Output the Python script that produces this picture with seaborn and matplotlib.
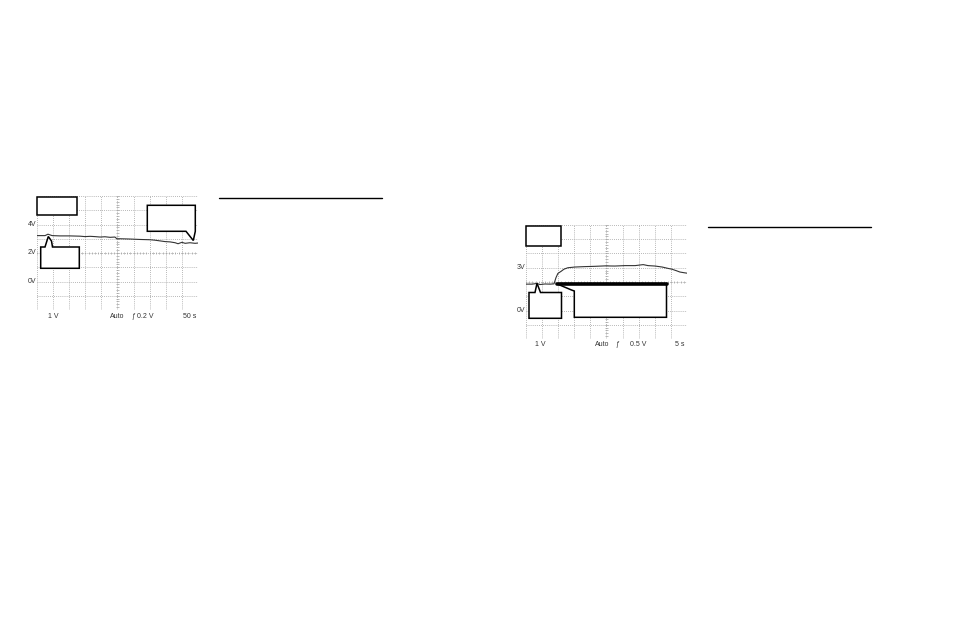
import matplotlib
matplotlib.use("Agg")
import matplotlib.pyplot as plt
import seaborn as sns
import pandas as pd
from matplotlib.patches import Polygon

# Two scope captures: time (s) and voltage (V)
left_time = [0, 25, 34, 47, 71, 102, 134, 149, 165, 180, 196, 211, 227, 242, 248,
             258, 289, 320, 351, 366, 382, 398, 413, 429, 438, 450, 460, 475, 491, 500]
left_volts = [3.22, 3.22, 3.32, 3.22, 3.2, 3.2, 3.18, 3.15, 3.17, 3.15, 3.12, 3.14, 3.1, 3.12, 3.0,
              3.0, 2.98, 2.95, 2.93, 2.9, 2.85, 2.8, 2.78, 2.72, 2.65, 2.75, 2.68, 2.72, 2.68, 2.7]

right_time = [0, 1.9, 3.4, 4.3, 5.9, 7.5, 8.7, 9.3, 9.9, 10.9, 11.8, 13.0, 15.2, 18.3, 21.4,
              24.5, 27.6, 30.7, 33.9, 36.4, 37.9, 40.1, 42.3, 44.2, 45.3, 46.6, 47.8, 49.1, 50]
right_volts = [1.85, 1.85, 1.9, 1.82, 1.86, 1.85, 1.87, 2.3, 2.6, 2.75, 2.9, 3.0, 3.05, 3.08, 3.1,
               3.13, 3.12, 3.15, 3.15, 3.22, 3.15, 3.12, 3.05, 2.95, 2.9, 2.8, 2.7, 2.65, 2.62]

left_ylabels = ["4V", "2V", "0V"]
left_yvals = [4, 2, 0]
right_ylabels = ["3V", "0V"]
right_yvals = [3, 0]
left_footer = ["1 V", "Auto", "ƒ", "0.2 V", "50 s"]
right_footer = ["1 V", "Auto", "ƒ", "0.5 V", "5 s"]

W, H = 954, 626

sns.set_style("white")
plt.rcParams['font.family'] = ['Liberation Sans', 'DejaVu Sans']

fig = plt.figure(figsize=(W / 100, H / 100), dpi=100)


def px(x, y):
    return (x / W, 1 - y / H)


def scope(left, top, tmax, times, volts, ylabels, yvals, footer, footer_x):
    ax = fig.add_axes([left / W, 1 - (top + 114) / H, 161 / W, 114 / H])
    ax.set_xlim(0, tmax)
    ax.set_ylim(-2, 6)
    ax.axis("off")
    dx = tmax / 10
    # dotted graticule
    for i in range(11):
        ax.axvline(i * dx, color="#a0a0a0", lw=0.6, ls=(0, (1, 1.5)))
    for j in range(9):
        ax.axhline(-2 + j, color="#a0a0a0", lw=0.6, ls=(0, (1, 1.5)))
    # minor ticks on the centre cross
    ys = [-2 + k * 0.2 for k in range(41)]
    ax.hlines(ys, 5 * dx - 0.1 * dx, 5 * dx + 0.1 * dx, color="#a0a0a0", lw=0.5)
    xs = [k * dx * 0.2 for k in range(51)]
    ax.vlines(xs, 1.9, 2.1, color="#a0a0a0", lw=0.5)

    df = pd.DataFrame({"t": times, "v": volts})
    sns.lineplot(data=df, x="t", y="v", ax=ax, color="#333333", lw=0.8)
    ax.set_xlabel("")
    ax.set_ylabel("")

    for lab, v in zip(ylabels, yvals):
        fig.text(*px(left - 1, top + 114 - (v + 2) * 14.25), lab, ha="right",
                 va="center", fontsize=5, color="#333333")
    for lab, x in zip(footer, footer_x):
        fig.text(*px(x, top + 120), lab, ha="center", va="center",
                 fontsize=5, color="#333333")
    return ax


scope(37, 196, 500, left_time, left_volts, left_ylabels, left_yvals,
      left_footer, [53, 117, 133, 145, 190])
scope(526, 225, 50, right_time, right_volts, right_ylabels, right_yvals,
      right_footer, [540, 602, 617, 638, 680])


def callout(points, lw=1.1):
    poly = Polygon([px(x, y) for x, y in points], closed=True, transform=fig.transFigure,
                   facecolor="white", edgecolor="black", lw=lw, zorder=10)
    fig.add_artist(poly)


# left scope callouts
callout([(37.3, 197), (77.5, 197), (77.5, 215.5), (37.3, 215.5)])
callout([(147.3, 205.3), (195.3, 205.3), (195.3, 231.3), (193.3, 240.5),
         (186, 231.3), (147.3, 231.3)])
callout([(40.7, 268.3), (40.7, 247), (45, 247), (48.3, 236.5), (51.5, 241),
         (52.5, 247), (79.3, 247), (79.3, 268.3)])

# right scope callouts
callout([(526, 226.3), (560.7, 226.3), (560.7, 245.7), (526, 245.7)])
callout([(529, 318.3), (529, 292.5), (535, 292.5), (537, 283.3), (540.5, 292.5),
         (561.5, 292.5), (561.5, 318.3)])
callout([(557.3, 284), (666.5, 284), (666.5, 317.3), (574.3, 317.3),
         (574.3, 291), (571.5, 290)])
fig.add_artist(plt.Line2D([px(557.3, 0)[0], px(666.5, 0)[0]],
                          [px(0, 284)[1]] * 2, transform=fig.transFigure,
                          color="black", lw=2.6, zorder=11))

# rules next to each capture
fig.add_artist(plt.Line2D([px(219, 0)[0], px(382, 0)[0]], [px(0, 198)[1]] * 2,
                          transform=fig.transFigure, color="black", lw=1.0))
fig.add_artist(plt.Line2D([px(708, 0)[0], px(871, 0)[0]], [px(0, 227)[1]] * 2,
                          transform=fig.transFigure, color="black", lw=1.0))

fig.savefig("out.png", dpi=100)
